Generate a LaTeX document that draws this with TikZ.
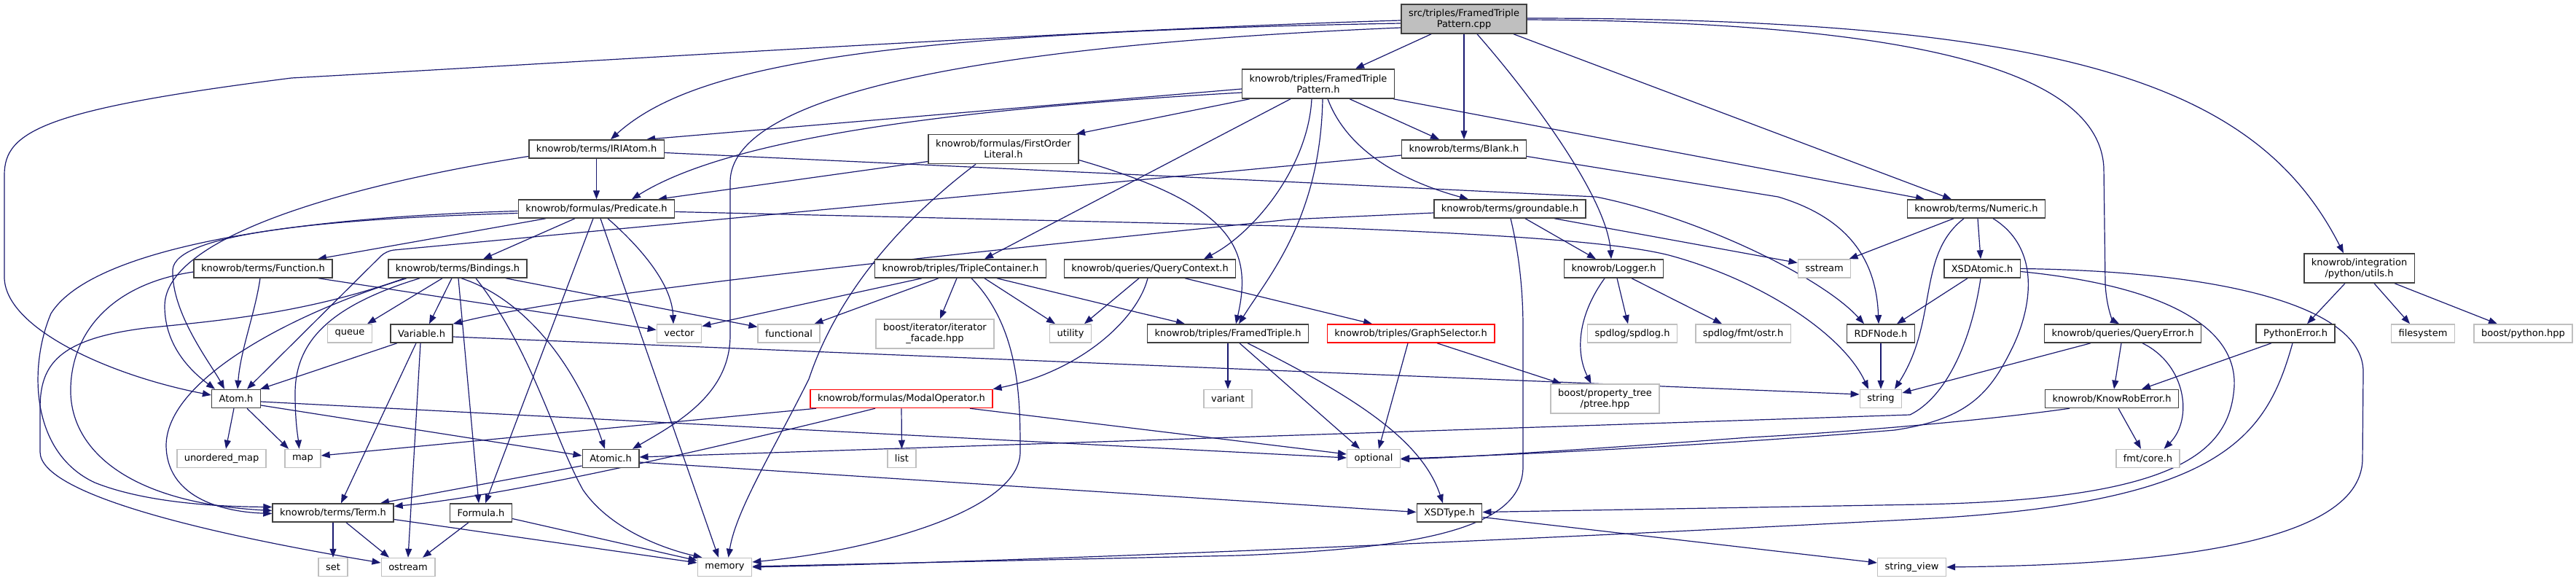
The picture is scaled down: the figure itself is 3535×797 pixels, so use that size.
\documentclass[tikz,border=0pt]{standalone}
\usepackage{fontspec}
\setmainfont{DejaVu Sans}
\usetikzlibrary{arrows.meta}
\pgfdeclarelayer{bg}
\pgfsetlayers{bg,main}
\definecolor{edgecol}{HTML}{191970}
\definecolor{grayfill}{HTML}{BFBFBF}
\definecolor{darkbd}{HTML}{404040}
\newcommand{\nodefont}{\fontsize{13}{15}\selectfont}
\tikzset{
 nd/.style={draw=darkbd, line width=1.5pt, fill=white, inner xsep=10pt, inner ysep=0pt, minimum height=25pt, align=center, font=\nodefont},
 nd2/.style={nd, minimum height=40pt},
 ext/.style={nd, draw=grayfill},
 ext2/.style={ext, minimum height=40pt},
 trunc/.style={nd, draw=red},
 root/.style={nd2, fill=grayfill},
 dep/.style={draw=edgecol, line width=1.2pt, -{Triangle[length=12pt,width=9pt]}}
}
\begin{document}
\begin{tikzpicture}[x=1pt,y=-1pt]
\begin{pgfonlayer}{bg}
\fill[white] (0,0) rectangle (3535,797);
\end{pgfonlayer}
\useasboundingbox (0,0) rectangle (3535,797);
% nodes
\node[root] (main) at (2009,26) {src/triples/FramedTriple\\Pattern.cpp};
\node[nd2] (ftp) at (1809,115) {knowrob/triples/FramedTriple\\Pattern.h};
\node[nd] (iri) at (818.5,204.5) {knowrob/terms/IRIAtom.h};
\node[nd2] (fol) at (1377,204.5) {knowrob/formulas/FirstOrder\\Literal.h};
\node[nd] (blank) at (2009,204.5) {knowrob/terms/Blank.h};
\node[nd] (pred) at (818.5,286.5) {knowrob/formulas/Predicate.h};
\node[nd] (ground) at (2072,286.5) {knowrob/terms/groundable.h};
\node[nd] (numeric) at (2712,286.5) {knowrob/terms/Numeric.h};
\node[nd] (func) at (361,368.5) {knowrob/terms/Function.h};
\node[nd] (bind) at (628,368.5) {knowrob/terms/Bindings.h};
\node[nd] (tc) at (1318,368.5) {knowrob/triples/TripleContainer.h};
\node[nd] (qc) at (1578,368.5) {knowrob/queries/QueryContext.h};
\node[nd] (logger) at (2214.5,368.5) {knowrob/Logger.h};
\node[ext] (sstream) at (2503.5,368.5) {sstream};
\node[nd] (xsdatomic) at (2720,368.5) {XSDAtomic.h};
\node[nd2] (pyutils) at (3237.5,368) {knowrob/integration\\/python/utils.h};
\node[ext] (queue) at (480,457.5) {queue};
\node[nd] (variable) at (578.5,457.5) {Variable.h};
\node[ext] (vector) at (932,457.5) {vector};
\node[ext] (functional) at (1082.5,457.5) {functional};
\node[ext2] (iterfacade) at (1283,458) {boost/iterator/iterator\\\_facade.hpp};
\node[ext] (utility) at (1469,457.5) {utility};
\node[nd] (ftriple) at (1685,457.5) {knowrob/triples/FramedTriple.h};
\node[trunc] (graphsel) at (1936,457.5) {knowrob/triples/GraphSelector.h};
\node[ext] (spdlog) at (2240,457.5) {spdlog/spdlog.h};
\node[ext] (fmtostr) at (2392,457.5) {spdlog/fmt/ostr.h};
\node[nd] (rdfnode) at (2581,457.5) {RDFNode.h};
\node[nd] (queryerror) at (2913,457.5) {knowrob/queries/QueryError.h};
\node[nd] (pyerror) at (3150,457.5) {PythonError.h};
\node[ext] (filesystem) at (3325,457.5) {filesystem};
\node[ext] (boostpython) at (3462.5,457.5) {boost/python.hpp};
\node[nd] (atom) at (324,547) {Atom.h};
\node[trunc] (modalop) at (1237,547) {knowrob/formulas/ModalOperator.h};
\node[ext] (variant) at (1685,547) {variant};
\node[ext2] (ptree) at (2202.5,547) {boost/property\_tree\\/ptree.hpp};
\node[ext] (string) at (2581,547) {string};
\node[nd] (kre) at (2898,547) {knowrob/KnowRobError.h};
\node[ext] (umap) at (304,629) {unordered\_map};
\node[ext] (map) at (415.5,629) {map};
\node[ext] (list) at (1237.5,629) {list};
\node[nd] (atomic) at (838,629) {Atomic.h};
\node[ext] (optional) at (1885,629) {optional};
\node[ext] (fmtcore) at (2947.5,629) {fmt/core.h};
\node[nd] (term) at (457,703.5) {knowrob/terms/Term.h};
\node[nd] (formula) at (660,703.5) {Formula.h};
\node[nd] (xsdtype) at (1989,703.5) {XSDType.h};
\node[ext] (set) at (457,778) {set};
\node[ext] (ostream) at (560,778) {ostream};
\node[ext] (memory) at (994.5,778) {memory};
\node[ext] (stringview) at (2623.5,778) {string\_view};
\begin{pgfonlayer}{bg}
% edges from main
\draw[dep] ([xshift=-45]main.south) -- ([xshift=51]ftp.north);
\draw[dep] (main.south) -- (blank.north);
\draw[dep] ([xshift=18]main.south) .. controls (2100,130) and (2205,270) .. ([xshift=-3.5]logger.north);
\draw[dep] ([xshift=68]main.south) -- ([xshift=-34]numeric.north);
\draw[dep] ([yshift=-1]main.east) .. controls (2600,30) and (2880,90) .. (2887,230) -- (2889,390) .. controls (2891,425) and (2900,440) .. ([xshift=-5]queryerror.north);
\draw[dep] ([yshift=1]main.east) .. controls (2850,25) and (3100,120) .. ([xshift=-21.5]pyutils.north);
\draw[dep] ([yshift=-2]main.west) .. controls (1500,40) and (800,85) .. (400,107) .. controls (60,150) and (6,180) .. (6,240) -- (6,380) .. controls (6,450) and (150,515) .. ([yshift=5]atom.west);
\draw[dep] ([yshift=-6]main.west) .. controls (1200,45) and (950,90) .. ([xshift=19.5]iri.north);
\draw[dep] ([yshift=-12]main.west) .. controls (1400,60) and (1002,120) .. (1002,250) -- (1002,460) .. controls (1002,540) and (930,580) .. ([xshift=30]atomic.north);
% edges from FramedTriplePattern.h
\draw[dep] ([yshift=-7]ftp.west) -- ([xshift=68.5]iri.north);
\draw[dep] ([yshift=-12]ftp.west) .. controls (1300,150) and (1000,190) .. ([xshift=48.5]pred.north);
\draw[dep] ([xshift=-94]ftp.south) -- ([xshift=100]fol.north);
\draw[dep] ([xshift=-38]ftp.south) -- ([xshift=33]tc.north);
\draw[dep] ([xshift=-9]ftp.south) .. controls (1795,230) and (1720,320) .. ([xshift=74]qc.north);
\draw[dep] ([xshift=6]ftp.south) .. controls (1812,300) and (1740,380) .. ([xshift=15]ftriple.north);
\draw[dep] ([xshift=43]ftp.south) -- ([xshift=-34]blank.north);
\draw[dep] ([xshift=13]ftp.south) .. controls (1850,210) and (1930,250) .. ([xshift=-57]ground.north);
\draw[dep] ([xshift=103]ftp.south) -- ([xshift=-71]numeric.north);
% IRIAtom, Blank
\draw[dep] (iri.south) -- (pred.north);
\draw[dep] ([yshift=-10]iri.west) .. controls (500,250) and (226,320) .. (226,420) .. controls (226,480) and (270,515) .. ([xshift=-29]atom.north);
\draw[dep] ([yshift=-5]iri.east) -- (1780,250) -- (2190,270) .. controls (2330,298) and (2500,380) .. ([xshift=-23]rdfnode.north);
\draw[dep, rounded corners=10pt] ([yshift=-8.5]blank.west) -- (530,344) -- ([xshift=15]atom.north);
\draw[dep] ([yshift=-10]blank.east) -- (2440,270) .. controls (2540,300) and (2575,360) .. ([xshift=-3]rdfnode.north);
% Predicate
\draw[dep] ([xshift=-69.5]pred.south) -- ([xshift=75]func.north);
\draw[dep] ([xshift=-29.5]pred.south) -- ([xshift=35]bind.north);
\draw[dep] ([yshift=-6]pred.west) .. controls (450,300) and (240,320) .. (237,370) .. controls (235,430) and (290,500) .. ([xshift=-16]atom.north);
\draw[dep] ([yshift=-3]pred.west) .. controls (350,300) and (120,350) .. (70,430) .. controls (40,500) and (40,620) .. (130,662) .. controls (200,690) and (300,695) .. ([yshift=8]term.west);
\draw[dep] ([xshift=-4.5]pred.south) -- ([xshift=6]formula.north);
\draw[dep] ([xshift=5.5]pred.south) -- ([xshift=-8.5]memory.north);
\draw[dep] ([xshift=15.5]pred.south) .. controls (880,340) and (922,390) .. ([xshift=-8]vector.north);
\draw[dep] ([yshift=-4]pred.east) -- (1760,310) .. controls (2100,322) and (2230,335) .. (2290,350) .. controls (2420,385) and (2530,460) .. ([xshift=-17]string.north);
% Function
\draw[dep] ([yshift=-4.5]func.west) .. controls (150,390) and (95,460) .. (97,540) .. controls (100,620) and (180,690) .. ([yshift=3]term.west);
\draw[dep] ([xshift=-4]func.south) .. controls (350,430) and (330,480) .. ([xshift=2]atom.north);
\draw[dep] ([xshift=76]func.south) -- ([yshift=5]vector.west);
% Bindings
\draw[dep] ([xshift=-70]bind.south) .. controls (400,430) and (230,520) .. (228,610) .. controls (228,680) and (300,702) .. ([yshift=-1]term.west);
\draw[dep] ([xshift=-73]bind.south) .. controls (420,430) and (300,440) .. (200,450) .. controls (80,465) and (55,500) .. (55,560) -- (55,620) .. controls (55,680) and (300,735) .. ([yshift=6]ostream.west);
\draw[dep] ([xshift=-52]bind.south) .. controls (450,420) and (405,470) .. (405,540) .. controls (405,580) and (409,600) .. ([xshift=-5]map.north);
\draw[dep] ([xshift=-21]bind.south) -- ([xshift=24]queue.north);
\draw[dep] ([xshift=-8]bind.south) -- ([xshift=10.5]variable.north);
\draw[dep] ([xshift=1]bind.south) -- ([xshift=-3]formula.north);
\draw[dep] ([xshift=5]bind.south) .. controls (720,410) and (790,500) .. ([xshift=-8]atomic.north);
\draw[dep] ([xshift=25]bind.south) .. controls (730,480) and (760,600) .. (800,672) .. controls (840,730) and (920,755) .. ([xshift=-31]memory.north);
\draw[dep] ([xshift=66]bind.south) -- ([yshift=9]functional.west);
% Variable
\draw[dep] ([xshift=-33.5]variable.south) -- ([xshift=-1]atom.north east);
\draw[dep] ([xshift=-7.5]variable.south) -- ([xshift=11]term.north);
\draw[dep] ([xshift=-1.5]variable.south) -- (ostream.north);
\draw[dep] ([yshift=-4.5]variable.east) -- ([yshift=6]string.west);
% Atom
\draw[dep] ([xshift=-3]atom.south) -- ([xshift=6]umap.north);
\draw[dep] ([xshift=15]atom.south) -- ([xshift=-19.5]map.north);
\draw[dep] ([yshift=-9]atom.east) -- ([yshift=4]atomic.west);
\draw[dep] ([yshift=-4]atom.east) -- ([yshift=1]optional.west);
% Atomic, Term, Formula
\draw[dep] ([yshift=-10]atomic.west) -- ([xshift=65]term.north);
\draw[dep] ([yshift=-5]atomic.east) -- ([yshift=1]xsdtype.west);
\draw[dep] (term.south) -- (set.north);
\draw[dep] ([xshift=18]term.south) -- ([xshift=-26]ostream.north);
\draw[dep] ([yshift=-9]term.east) -- ([yshift=6]memory.west);
\draw[dep] ([xshift=-17]formula.south) -- ([xshift=20]ostream.north);
\draw[dep] ([yshift=-8]formula.east) -- ([yshift=9]memory.west);
% ModalOperator
\draw[dep] ([xshift=-117]modalop.south) -- ([yshift=4]map.east);
\draw[dep] ([xshift=-36]modalop.south) .. controls (1000,610) and (700,680) .. ([yshift=9]term.east);
\draw[dep] (modalop.south) -- (list.north);
\draw[dep] ([xshift=94]modalop.south) -- ([yshift=6]optional.west);
% TripleContainer
\draw[dep] ([xshift=-53]tc.south) -- ([yshift=10]vector.east);
\draw[dep] ([xshift=-30]tc.south) -- ([xshift=35]functional.north);
\draw[dep] ([xshift=-5]tc.south) -- ([xshift=7]iterfacade.north);
\draw[dep] ([xshift=15]tc.south) .. controls (1400,450) and (1400,550) .. (1400,620) .. controls (1400,700) and (1200,755) .. ([yshift=7]memory.east);
\draw[dep] ([xshift=33]tc.south) -- ([xshift=-21]utility.north);
\draw[dep] ([xshift=50]tc.south) -- ([xshift=-59]ftriple.north);
% QueryContext
\draw[dep] ([xshift=-15]qc.south) -- ([xshift=19]utility.north);
\draw[dep] ([xshift=-3]qc.south) .. controls (1560,440) and (1480,510) .. (modalop.north east);
\draw[dep] ([xshift=48]qc.south) -- ([xshift=-53]graphsel.north);
% FirstOrderLiteral
\draw[dep] ([yshift=-17]fol.west) -- ([xshift=84.5]pred.north);
\draw[dep] ([xshift=-38]fol.south) .. controls (1240,300) and (1150,400) .. (1110,520) .. controls (1060,620) and (1010,700) .. ([xshift=5]memory.north);
\draw[dep] ([yshift=-15]fol.east) .. controls (1690,280) and (1720,340) .. ([xshift=11]ftriple.north);
% groundable
\draw[dep] ([yshift=-5.5]ground.west) -- (1770,301) .. controls (1300,350) and (800,400) .. (variable.north east);
\draw[dep] ([xshift=1]ground.south) .. controls (2085,350) and (2090,400) .. (2090,450) -- (2090,640) .. controls (2090,725) and (1950,752) .. (1700,762) -- ([yshift=1]memory.east);
\draw[dep] ([xshift=21]ground.south) -- ([xshift=-24.5]logger.north);
\draw[dep] ([xshift=61]ground.south) -- ([yshift=8]sstream.west);
% Logger
\draw[dep] ([xshift=-12.5]logger.south) .. controls (2160,440) and (2165,490) .. ([xshift=-19]ptree.north);
\draw[dep] ([xshift=4.5]logger.south) -- ([xshift=-6]spdlog.north);
\draw[dep] ([xshift=24.5]logger.south) -- ([xshift=-29]fmtostr.north);
% GraphSelector, FramedTriple
\draw[dep] ([xshift=-4]graphsel.south) -- ([xshift=7]optional.north);
\draw[dep] ([xshift=36]graphsel.south) -- ([xshift=-60]ptree.north);
\draw[dep] (ftriple.south) -- (variant.north);
\draw[dep] ([xshift=16]ftriple.south) -- ([xshift=-19]optional.north);
\draw[dep] ([xshift=27]ftriple.south) .. controls (1850,540) and (1950,600) .. ([xshift=-9]xsdtype.north);
% Numeric
\draw[dep] ([xshift=-31]numeric.south) -- ([xshift=34]sstream.north);
\draw[dep] ([xshift=-17]numeric.south) .. controls (2630,350) and (2660,440) .. ([xshift=19]string.north);
\draw[dep] ([xshift=2]numeric.south) -- ([xshift=-2]xsdatomic.north);
\draw[dep] ([xshift=23]numeric.south) .. controls (2800,340) and (2790,420) .. (2760,480) .. controls (2730,540) and (2700,575) .. (2600,590) .. controls (2300,615) and (2000,627) .. (optional.east);
% XSDAtomic
\draw[dep] ([xshift=-20]xsdatomic.south) -- ([xshift=22]rdfnode.north);
\draw[dep] ([xshift=-2]xsdatomic.south) .. controls (2705,470) and (2670,545) .. (2621,569) -- ([yshift=2]atomic.east);
\draw[dep] ([yshift=-4]xsdatomic.east) .. controls (2950,390) and (3070,440) .. (3066,530) .. controls (3060,620) and (2990,685) .. (2635,692) -- ([yshift=1]xsdtype.east);
\draw[dep] (xsdatomic.east) .. controls (3050,372) and (3243,420) .. (3243,510) -- (3242,630) .. controls (3240,760) and (2900,775) .. (stringview.east);
% RDFNode, errors
\draw[dep] (rdfnode.south) -- (string.north);
\draw[dep] ([xshift=-44]queryerror.south) -- ([yshift=8]string.east);
\draw[dep] ([xshift=-2]queryerror.south) -- ([xshift=3]kre.north);
\draw[dep] ([xshift=27]queryerror.south) .. controls (3000,500) and (3010,575) .. ([xshift=22]fmtcore.north);
\draw[dep] ([xshift=-58]kre.south) .. controls (2700,580) and (2500,595) .. (2400,600) .. controls (2200,615) and (2000,628) .. ([yshift=-1]optional.east);
\draw[dep] ([xshift=9]kre.south) -- ([xshift=-9.5]fmtcore.north);
\draw[dep] ([xshift=-33]pyerror.south) -- ([xshift=41]kre.north);
\draw[dep] ([xshift=-4]pyerror.south) .. controls (3110,600) and (3050,690) .. (2635,712) .. controls (2000,745) and (1400,770) .. (memory.east);
% python utils
\draw[dep] ([xshift=-19.5]pyutils.south) -- ([xshift=16]pyerror.north);
\draw[dep] ([xshift=20.5]pyutils.south) -- ([xshift=-18]filesystem.north);
\draw[dep] ([xshift=48.5]pyutils.south) -- ([xshift=-35.5]boostpython.north);
% XSDType
\draw[dep] ([yshift=-6]xsdtype.east) -- ([yshift=6]stringview.west);
\end{pgfonlayer}
\end{tikzpicture}
\end{document}
